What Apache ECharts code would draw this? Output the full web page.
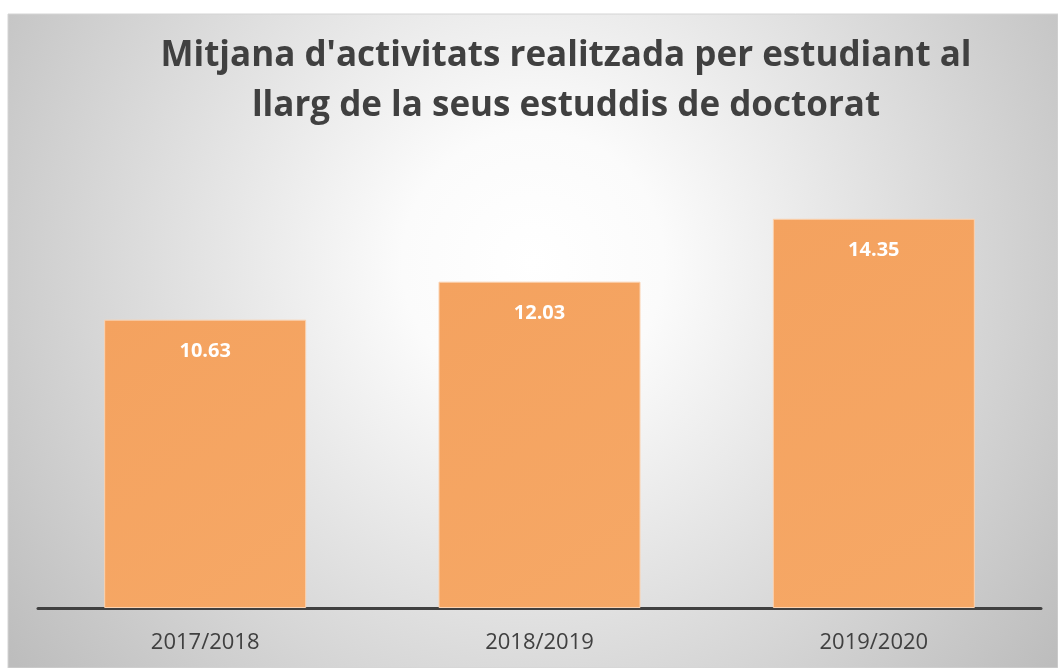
<!DOCTYPE html>
<html>
<head>
<meta charset="utf-8">
<script src="https://cdn.jsdelivr.net/npm/echarts@6/dist/echarts.min.js"></script>
<style>
  html, body { margin: 0; padding: 0; background: #fff; }
  #chart { width: 1058px; height: 668px; }
</style>
</head>
<body>
<div id="chart"></div>
<script>
// dades
const years = ['2017/2018', '2018/2019', '2019/2020']
const averages = [10.63, 12.03, 14.35]
const titleLines = ["Mitjana d'activitats realitzada per estudiant al", 'llarg de la seus estuddis de doctorat']

const chart = echarts.init(document.getElementById('chart'))

const option = {
  backgroundColor: '#ffffff',
  animation: false,
  graphic: [
    {
      type: 'rect',
      z: -10,
      shape: { x: 8, y: 14, width: 1050, height: 654 },
      style: {
        fill: {
          type: 'radial', x: 0.5, y: 0.38, r: 1.0,
          colorStops: [
            { offset: 0, color: '#ffffff' },
            { offset: 0.2, color: '#fbfbfb' },
            { offset: 1, color: '#bdbdbd' }
          ]
        },
        stroke: '#d4d4d4',
        lineWidth: 1
      }
    },
    {
      type: 'text',
      x: 566,
      y: 31,
      style: {
        text: titleLines.join('\n'),
        align: 'center',
        font: 'bold 35px "Open Sans", sans-serif',
        lineHeight: 50,
        fill: '#404040'
      }
    }
  ],
  grid: { left: 38, right: 17, top: 174, bottom: 60 },
  xAxis: {
    type: 'category',
    data: years,
    axisLine: { lineStyle: { color: '#404040', width: 3 } },
    axisTick: { show: false },
    axisLabel: {
      color: '#404040',
      fontSize: 22,
      fontFamily: 'Open Sans',
      margin: 24
    }
  },
  yAxis: {
    type: 'value',
    min: 0,
    max: 16,
    show: false,
    splitLine: { show: false }
  },
  series: [
    {
      type: 'bar',
      data: averages,
      barWidth: 202,
      itemStyle: {
        color: {
          type: 'linear', x: 0, y: 0, x2: 1, y2: 1,
          colorStops: [
            { offset: 0, color: '#f4a25f' },
            { offset: 1, color: '#f6a866' }
          ]
        },
        borderColor: '#fbd2b0',
        borderWidth: 1
      },
      label: {
        show: true,
        position: 'insideTop',
        distance: 22,
        color: '#ffffff',
        fontSize: 20,
        fontWeight: 'bold',
        fontFamily: 'Open Sans'
      }
    }
  ]
}

chart.setOption(option)
</script>
</body>
</html>
